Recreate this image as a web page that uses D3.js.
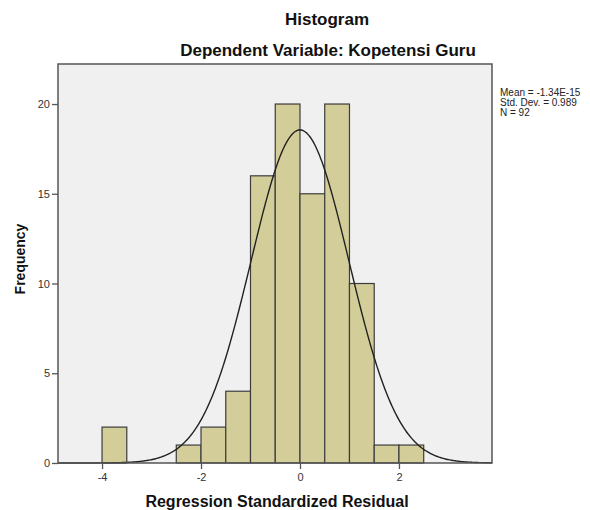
<!DOCTYPE html>
<html><head><meta charset="utf-8">
<script src="https://cdn.jsdelivr.net/npm/d3@7"></script>
<style>body{margin:0;background:#fff}svg{display:block;font-family:"Liberation Sans",Arial,sans-serif}</style>
</head><body><svg id="c" width="590" height="510"></svg>
<script>
const binStarts = [-4, -2.5, -2, -1.5, -1, -0.5, 0, 0.5, 1, 1.5, 2];
const binCounts = [2, 1, 2, 4, 16, 20, 15, 20, 10, 1, 1];
const binWidth = 0.5;
const xTicks = [-4, -2, 0, 2];
const yTicks = [0, 5, 10, 15, 20];
const mean = -1.34e-15, sd = 0.989, n = 92;
const legendLines = ["Mean = -1.34E-15", "Std. Dev. = 0.989", "N = 92"];

const svg = d3.select("#c");
const L = 58, R = 492, T = 64, B = 463;
const x = d3.scaleLinear().domain([-4.89, 3.88]).range([L, R]);
const y = d3.scaleLinear().domain([0, 22.23]).range([B, T]);

svg.append("rect").attr("x", L).attr("y", T).attr("width", R - L).attr("height", B - T)
  .attr("fill", "#f0f0f0");

svg.selectAll("rect.bar").data(binStarts.map((s, i) => ({s, c: binCounts[i]}))).enter()
  .append("rect").attr("class", "bar")
  .attr("x", d => x(d.s)).attr("width", d => x(d.s + binWidth) - x(d.s))
  .attr("y", d => y(d.c)).attr("height", d => y(0) - y(d.c))
  .attr("fill", "#d3ce99").attr("stroke", "#3c3c3c").attr("stroke-width", 1.2);

const dom = x.domain();
const pts = d3.range(0, 401).map(i => dom[0] + (dom[1] - dom[0]) * i / 400)
  .map(v => [v, n * binWidth * Math.exp(-0.5 * ((v - mean) / sd) ** 2) / (sd * Math.sqrt(2 * Math.PI))]);
svg.append("path").datum(pts)
  .attr("d", d3.line().x(d => x(d[0])).y(d => y(d[1])))
  .attr("fill", "none").attr("stroke", "#222").attr("stroke-width", 1.4);

svg.append("rect").attr("x", L).attr("y", T).attr("width", R - L).attr("height", B - T)
  .attr("fill", "none").attr("stroke", "#555").attr("stroke-width", 1.5);

const xa = svg.append("g").attr("transform", `translate(0,${B})`)
  .call(d3.axisBottom(x).tickValues(xTicks).tickSize(6).tickPadding(4).tickFormat(d => String(d)));
const ya = svg.append("g").attr("transform", `translate(${L},0)`)
  .call(d3.axisLeft(y).tickValues(yTicks).tickSize(6).tickPadding(2).tickFormat(d => String(d)));
[xa, ya].forEach(g => {
  g.select(".domain").remove();
  g.selectAll("line").attr("stroke", "#555").attr("stroke-width", 1.3);
  g.selectAll("text").attr("fill", "#333").style("font-size", "11px").style("font-family", "Liberation Sans, Arial, sans-serif");
});

svg.append("text").attr("x", 327).attr("y", 25).attr("text-anchor", "middle")
  .style("font-weight", "bold").style("font-size", "17px").attr("fill", "#111").text("Histogram");
svg.append("text").attr("x", 328).attr("y", 56).attr("text-anchor", "middle")
  .style("font-weight", "bold").style("font-size", "17px").attr("fill", "#111").text("Dependent Variable: Kopetensi Guru");
svg.append("text").attr("x", 277).attr("y", 507).attr("text-anchor", "middle")
  .style("font-weight", "bold").style("font-size", "16px").attr("fill", "#111").text("Regression Standardized Residual");
svg.append("text").attr("transform", "translate(25,259) rotate(-90)").attr("text-anchor", "middle")
  .style("font-weight", "bold").style("font-size", "14px").attr("fill", "#111").text("Frequency");

svg.selectAll("text.leg").data(legendLines).enter().append("text").attr("class", "leg")
  .attr("x", 500).attr("y", (d, i) => 96 + i * 10)
  .style("font-size", "10px").attr("fill", "#222").text(d => d);
</script></body></html>
